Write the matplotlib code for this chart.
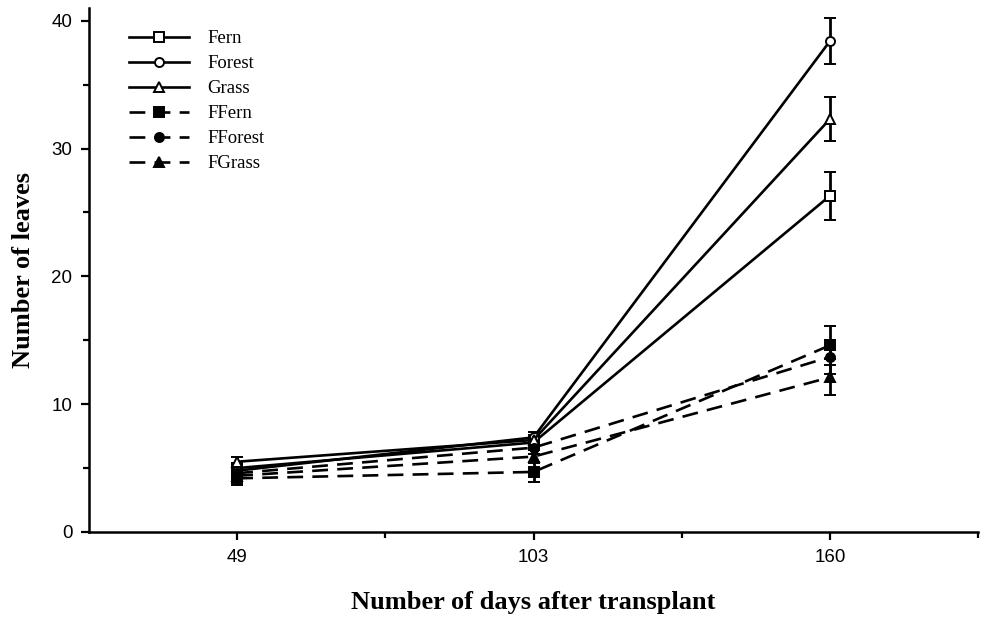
import matplotlib.pyplot as plt
from matplotlib.ticker import FixedLocator

# data
days = ["49", "103", "160"]

fern = [5.0, 7.0, 26.3]
forest = [4.8, 7.4, 38.4]
grass = [5.5, 7.2, 32.3]
ffern = [4.2, 4.7, 14.6]
fforest = [4.6, 6.6, 13.7]
fgrass = [4.4, 5.9, 12.1]

fern_err = [0.4, 0.4, 1.9]
forest_err = [0.4, 0.4, 1.8]
grass_err = [0.4, 0.4, 1.7]
ffern_err = [0.5, 0.8, 1.5]
fforest_err = [0.4, 0.5, 1.3]
fgrass_err = [0.4, 0.5, 1.4]

series = [
    ("Fern", fern, fern_err, "s", "white", "-"),
    ("Forest", forest, forest_err, "o", "white", "-"),
    ("Grass", grass, grass_err, "^", "white", "-"),
    ("FFern", ffern, ffern_err, "s", "black", "--"),
    ("FForest", fforest, fforest_err, "o", "black", "--"),
    ("FGrass", fgrass, fgrass_err, "^", "black", "--"),
]

serif = ["Liberation Serif", "DejaVu Serif"]
sans = ["Liberation Sans", "DejaVu Sans"]

fig = plt.figure(figsize=(9.81, 6.18), dpi=100)
ax = fig.add_axes([89 / 981, 1 - 532 / 618, (978 - 89) / 981, 524 / 618])

xpos = [2 * i + 1 for i in range(len(days))]  # categories sit at odd slots

for name, vals, errs, mk, fc, ls in series:
    ax.errorbar(xpos, vals, yerr=errs, color="black", linestyle=ls,
                linewidth=1.9, dashes=(6, 3.5) if ls == "--" else (None, None),
                marker=mk, markersize=6.5, markerfacecolor=fc,
                markeredgecolor="black", markeredgewidth=1.4,
                ecolor="black", elinewidth=2.0, capsize=4.2, capthick=2.0,
                label=name)

ax.set_xlim(0, 6)
ax.set_ylim(0, 41)

ax.spines["top"].set_visible(False)
ax.spines["right"].set_visible(False)
ax.spines["left"].set_linewidth(1.8)
ax.spines["bottom"].set_linewidth(1.8)

ax.set_xticks(xpos)
ax.set_xticklabels(days)
ax.xaxis.set_minor_locator(FixedLocator([2, 4, 6]))
ax.set_yticks([0, 10, 20, 30, 40])
ax.yaxis.set_minor_locator(FixedLocator([5, 15, 25, 35]))
ax.tick_params(which="major", direction="out", length=6, width=1.6,
               labelsize=13.5, pad=6)
ax.tick_params(which="minor", direction="out", length=4, width=1.6)
for lab in ax.get_xticklabels() + ax.get_yticklabels():
    lab.set_family(sans)

ax.set_xlabel("Number of days after transplant", family=serif,
              fontsize=19, fontweight="bold", labelpad=18)
ax.set_ylabel("Number of leaves", family=serif, fontsize=19,
              fontweight="bold", labelpad=12)

# legend without error bars
handles, labels = ax.get_legend_handles_labels()
handles = [h[0] for h in handles]
leg = ax.legend(handles, labels, loc="upper left",
                bbox_to_anchor=(0.026, 0.99), frameon=False,
                prop={"family": serif, "size": 13.5},
                handlelength=3.2, handletextpad=1.0, labelspacing=0.42)

fig.savefig("out.png", dpi=100)
